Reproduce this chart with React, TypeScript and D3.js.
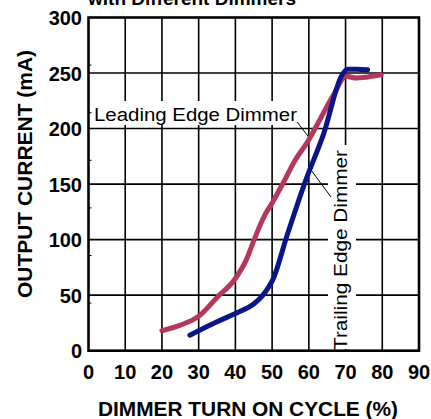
import React from "react";
import * as d3 from "d3";

const xTicks = [0, 10, 20, 30, 40, 50, 60, 70, 80, 90];
const yTicks = [0, 50, 100, 150, 200, 250, 300];
const yMinorTicks = [1, 2, 3, 4, 5, 6].map((k) => (300 * k) / 7);

const leadingX = [20, 25, 30, 35, 40, 43, 45, 48, 50, 53, 56, 60, 63, 66.5, 70.2, 73, 76, 79.7];
const leadingY = [18, 23, 31, 48, 65, 82, 99, 122, 133, 151, 170, 190, 208, 229, 247, 245.5, 246.5, 248.4];

const trailingX = [27.6, 30, 35, 41, 45, 47.5, 49, 50.2, 54, 59, 64, 69, 70.5, 73, 76];
const trailingY = [14, 18, 26, 35, 42, 50, 57, 64, 103, 152, 195, 248, 253.5, 253.5, 253];

const title = "with Different Dimmers";
const xTitle = "DIMMER TURN ON CYCLE (%)";
const yTitle = "OUTPUT CURRENT (mA)";
const leadingLabel = "Leading Edge Dimmer";
const trailingLabel = "Trailing Edge Dimmer";

const RED = "#b5375b";
const BLUE = "#0b158a";

export default function App() {
  const x = d3.scaleLinear().domain([0, 90]).range([88.5, 419]);
  const y = d3.scaleLinear().domain([0, 300]).range([350.7, 17.5]);
  const line = d3
    .line<[number, number]>()
    .x((d) => x(d[0]))
    .y((d) => y(d[1]))
    .curve(d3.curveMonotoneX);
  const leading = leadingX.map((v, i) => [v, leadingY[i]] as [number, number]);
  const trailing = trailingX.map((v, i) => [v, trailingY[i]] as [number, number]);
  const font = "'Liberation Sans', Arial, sans-serif";

  return (
    <svg
      width={431}
      height={419}
      style={{ position: "absolute", left: 0, top: 0, background: "#fff" }}
      fontFamily={font}
    >
      <rect width={431} height={419} fill="#fff" />
      <text x={192} y={5} textAnchor="middle" fontWeight="bold" fontSize={19}>
        {title}
      </text>
      {/* grid */}
      {xTicks.slice(1, -1).map((t) => (
        <line key={"gx" + t} x1={x(t)} x2={x(t)} y1={y(0)} y2={y(300)} stroke="#000" strokeWidth={1.6} />
      ))}
      {yTicks.slice(1, -1).map((t) => (
        <line key={"gy" + t} x1={x(0)} x2={x(90)} y1={y(t)} y2={y(t)} stroke="#000" strokeWidth={1.6} />
      ))}
      {yMinorTicks.map((t) => (
        <line key={"my" + t} x1={x(0)} x2={x(0) + 3} y1={y(t)} y2={y(t)} stroke="#000" strokeWidth={1} />
      ))}
      <rect
        x={x(0)}
        y={y(300)}
        width={x(90) - x(0)}
        height={y(0) - y(300)}
        fill="none"
        stroke="#000"
        strokeWidth={2.6}
      />
      {/* tick labels */}
      {yTicks.map((t) => (
        <text key={"yl" + t} x={82} y={y(t) + 7.5} textAnchor="end" fontWeight="bold" fontSize={20}>
          {t}
        </text>
      ))}
      {xTicks.map((t) => (
        <text key={"xl" + t} x={x(t)} y={379} textAnchor="middle" fontWeight="bold" fontSize={20}>
          {t}
        </text>
      ))}
      <text x={98} y={416} fontWeight="bold" fontSize={19.5} textLength={300} lengthAdjust="spacingAndGlyphs">
        {xTitle}
      </text>
      <text
        transform={`translate(32,298) rotate(-90)`}
        fontWeight="bold"
        fontSize={19.5}
        textLength={248}
        lengthAdjust="spacingAndGlyphs"
      >
        {yTitle}
      </text>
      {/* label backgrounds */}
      <rect x={92} y={101} width={209} height={24} fill="#fff" />
      <rect x={328} y={145} width={28} height={204} fill="#fff" />
      {/* leader lines */}
      <line x1={297} y1={122} x2={311} y2={140} stroke="#000" strokeWidth={1} />
      <line x1={308} y1={166} x2={331} y2={197} stroke="#000" strokeWidth={1} />
      {/* curves */}
      <path d={line(leading) || ""} fill="none" stroke={RED} strokeWidth={5} strokeLinecap="round" strokeLinejoin="round" />
      <path d={line(trailing) || ""} fill="none" stroke={BLUE} strokeWidth={5} strokeLinecap="round" strokeLinejoin="round" />
      {/* labels */}
      <text x={94} y={120.5} fontSize={18} textLength={203} lengthAdjust="spacingAndGlyphs">
        {leadingLabel}
      </text>
      <text
        transform={`translate(346.5,350) rotate(-90)`}
        fontSize={18}
        textLength={200}
        lengthAdjust="spacingAndGlyphs"
      >
        {trailingLabel}
      </text>
    </svg>
  );
}
